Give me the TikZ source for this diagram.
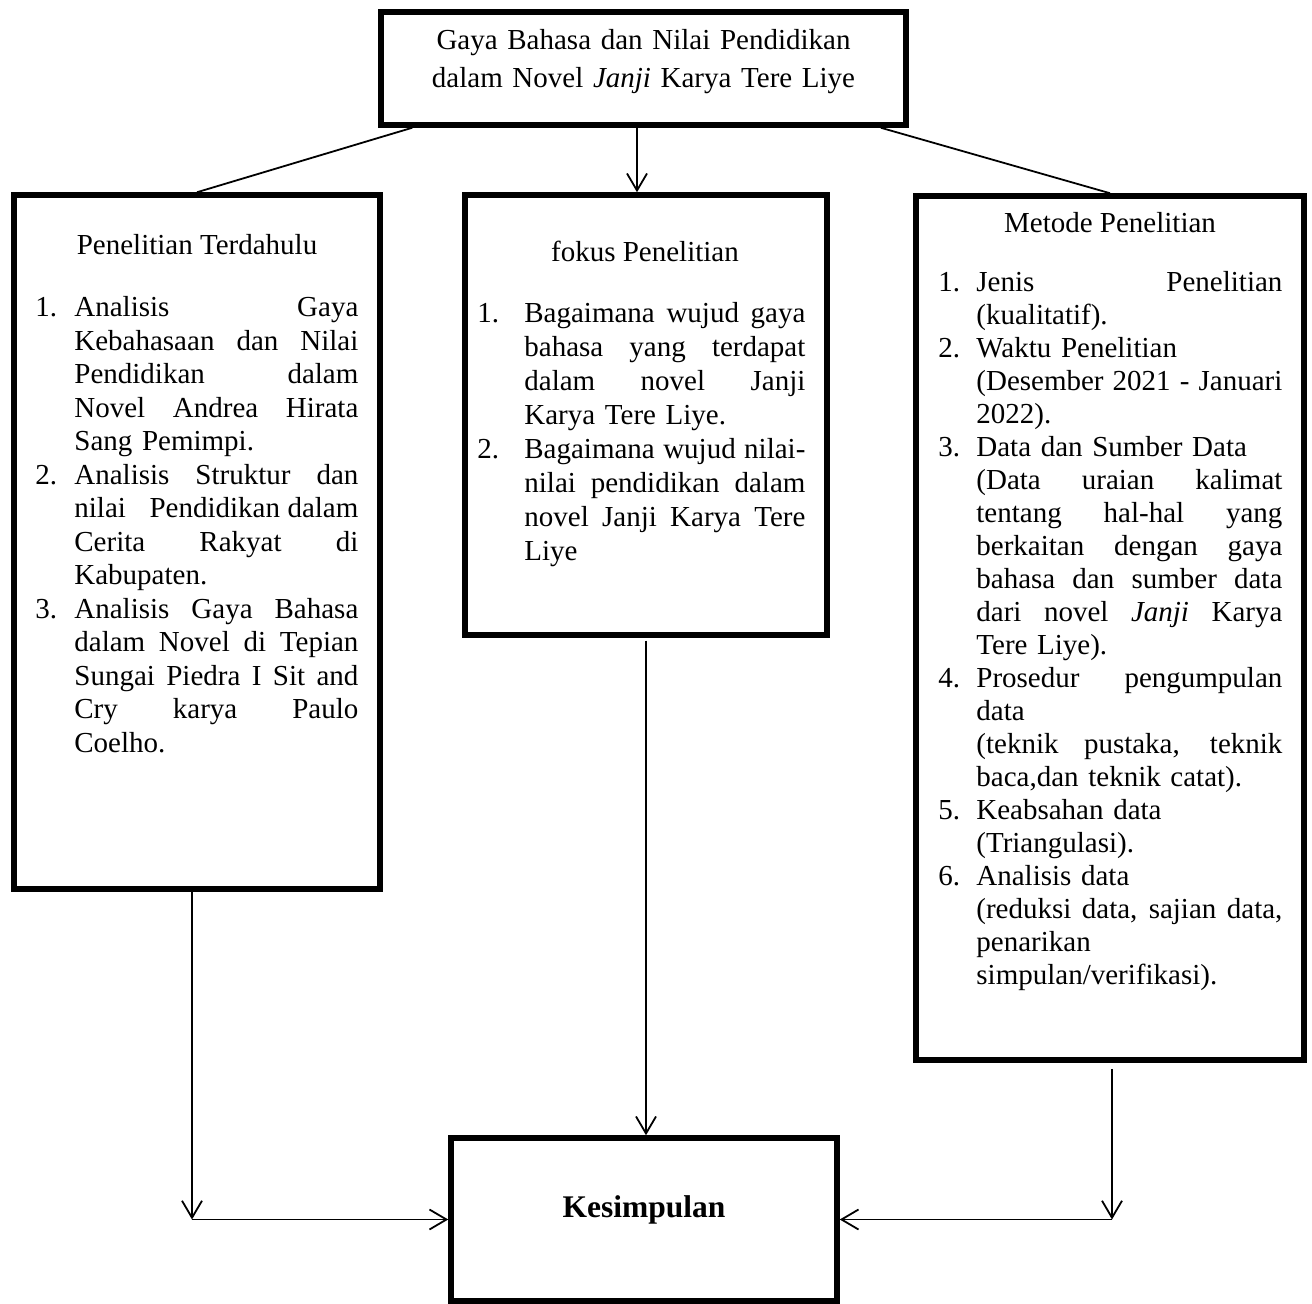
\documentclass[tikz,border=0pt]{standalone}
\usepackage{fontspec}
\setmainfont{Liberation Serif}
\usetikzlibrary{arrows.meta}
\newcommand\J[1]{\leavevmode\hbox to\hsize{\spaceskip=\fontdimen2\font plus 1fil\relax
  \xspaceskip=\spaceskip #1}\par}
\newcommand\R[1]{\leavevmode#1\par}
\newlength\numw
\newcommand\N[1]{\leavevmode\llap{\hbox to\numw{#1\hss}}}
\begin{document}
\begin{tikzpicture}[x=0.5pt,y=-0.5pt,
  box/.style={draw, line width=2.75pt, inner sep=0pt},
  conn/.style={line width=0.9pt},
  arr/.style={conn, -{Straight Barb[length=8.5pt,width=10pt]}},
  ttl/.style={anchor=base, inner sep=0pt, font=\fontsize{14.5pt}{16.75pt}\selectfont},
  lst/.style={anchor=base west, inner sep=0pt, text width=#1}]
\useasboundingbox (0,0) rectangle (1312,1304);
% boxes
\node[box, minimum width=262.5pt, minimum height=56.5pt] (T) at (643.5,68.5) {};
\node[box, minimum width=183pt, minimum height=347pt] (L) at (197,542) {};
\node[box, minimum width=181pt, minimum height=220pt] (M) at (646,415) {};
\node[box, minimum width=194pt, minimum height=432pt] (R) at (1110,628) {};
\node[box, minimum width=193pt, minimum height=81.5pt] (K) at (644,1219.5) {};
% texts
\node[anchor=base, inner sep=0pt, text width=262pt, align=center,
  font=\fontsize{14.5pt}{19pt}\selectfont] (Tt) at (643.5,50)
  {Gaya Bahasa dan Nilai Pendidikan\\dalam Novel \textit{Janji} Karya Tere Liye};
\node[ttl] (Lt) at (197,255) {Penelitian Terdahulu};
\node[ttl] (Mt) at (645,262) {fokus Penelitian};
\node[ttl] (Rt) at (1110,233) {Metode Penelitian};
\node[anchor=base, inner sep=0pt, font=\fontsize{15.75pt}{18pt}\selectfont\bfseries] (Kt) at (644,1217) {Kesimpulan};
\node[lst=142pt, font=\fontsize{14.5pt}{16.75pt}\selectfont] (Ll) at (74,317) {\setlength\numw{19.5pt}%
\N{1.}\J{Analisis Gaya}
\J{Kebahasaan dan Nilai}
\J{Pendidikan dalam}
\J{Novel Andrea Hirata}
\R{Sang Pemimpi.}
\N{2.}\J{Analisis Struktur dan}
\J{nilai\hspace{8pt} Pendidikan dalam}
\J{Cerita Rakyat di}
\R{Kabupaten.}
\N{3.}\J{Analisis Gaya Bahasa}
\J{dalam Novel di Tepian}
\J{Sungai Piedra I Sit and}
\J{Cry karya Paulo}
\R{Coelho.}};
\node[lst=140.5pt, font=\fontsize{14.5pt}{16.95pt}\selectfont] (Ml) at (524,323) {\setlength\numw{23.5pt}%
\N{1.}\J{Bagaimana wujud gaya}
\J{bahasa yang terdapat}
\J{dalam novel Janji}
\R{Karya Tere Liye.}
\N{2.}\J{Bagaimana wujud nilai-}
\J{nilai pendidikan dalam}
\J{novel Janji Karya Tere}
\R{Liye}};
\node[lst=153pt, font=\fontsize{14.5pt}{16.5pt}\selectfont] (Rl) at (976,292) {\setlength\numw{19pt}%
\N{1.}\J{Jenis Penelitian}
\R{(kualitatif).}
\N{2.}\R{Waktu Penelitian}
\J{(Desember 2021 - Januari}
\R{2022).}
\N{3.}\R{Data dan Sumber Data}
\J{(Data uraian kalimat}
\J{tentang hal-hal yang}
\J{berkaitan dengan gaya}
\J{bahasa dan sumber data}
\J{dari novel \textit{Janji} Karya}
\R{Tere Liye).}
\N{4.}\J{Prosedur pengumpulan}
\R{data}
\J{(teknik pustaka, teknik}
\R{baca,dan teknik catat).}
\N{5.}\R{Keabsahan data}
\R{(Triangulasi).}
\N{6.}\R{Analisis data}
\J{(reduksi data, sajian data,}
\R{penarikan}
\R{simpulan/verifikasi).}};
% connectors
\draw[conn] ([xshift=17pt]T.south west) -- (L.north);
\draw[conn] ([xshift=-14pt]T.south east) -- (R.north);
\coordinate (ts) at ([xshift=-3.25pt]T.south);
\draw[arr] (ts) -- (ts |- M.north);
\coordinate (lb) at ([xshift=-2.5pt]L.south);
\coordinate (lc) at (lb |- K.west);
\draw[arr] (lb) -- (lc);
\draw[arr] (lc) -- (K.west);
\coordinate (mb) at ([yshift=-1.5pt]M.south);
\draw[arr] (mb) -- (mb |- K.north);
\coordinate (rb) at ([xshift=1pt,yshift=-3pt]R.south);
\coordinate (rc) at (rb |- K.east);
\draw[arr] (rb) -- (rc);
\draw[arr] (rc) -- (K.east);
\end{tikzpicture}
\end{document}
